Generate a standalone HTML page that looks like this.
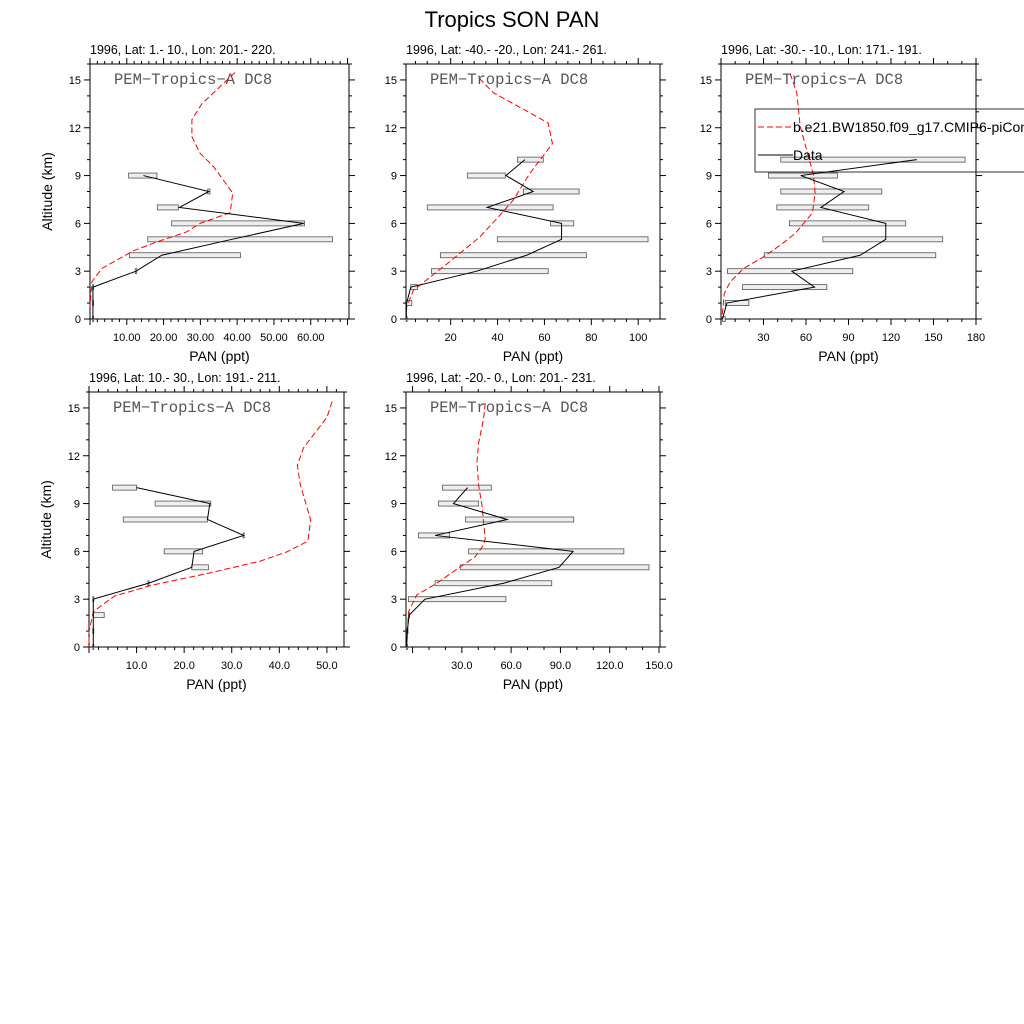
<!DOCTYPE html>
<html><head><meta charset="utf-8"><style>
body{margin:0;background:#fff}
svg{display:block}
text{font-family:"Liberation Sans",sans-serif}
text.camp{font-family:"Liberation Mono",monospace}
</style></head><body>
<svg id="chart" width="1024" height="1024" viewBox="0 0 1024 1024" xmlns="http://www.w3.org/2000/svg">
<rect width="1024" height="1024" fill="#fff"/>
<text x="512" y="27" font-size="22" text-anchor="middle">Tropics SON PAN</text>
</svg>
<script>
// ---- data ----
const altLevels = [0,1,2,3,4,5,6,7,8,9,10];
const p1ModelAlt = [15.47,13.5,12.5,11.45,10.4,9.56,7.9,6.67,6.0,5.47,4.84,4.28,3.17,2.33,0.75];
const p1ModelVal = [39.4,30.4,27.7,27.7,29.9,33.6,38.8,38.1,29.9,26.3,18.2,11.8,3.2,0.5,0];
const p1ObsAlt = [9,8,7,6,5,4,3,2,1,0];
const p1ObsVal = [14.5,32.3,24.3,58.1,38.6,19.5,12.5,0.8,0.8,0.8];
const p1BarMin = [10.5,32,18.3,22.2,15.7,10.7,12.3,0.7,0.7,0.7];
const p1BarMax = [18.2,32.6,24.0,58.3,65.9,40.9,12.7,0.9,0.9,0.9];

const p2ModelAlt = [15.1,14.2,12.3,11.0,9.14,7.46,6.4,5.16,3.69,1.8,0.75,0];
const p2ModelVal = [32.2,38.2,61.6,63.4,53.8,46.7,40.3,32.5,20.4,4.1,1.2,1];
const p2ObsAlt = [10,9,8,7,6,5,4,3,2,1,0];
const p2ObsVal = [51.7,43.6,55.2,35.6,67.3,67.3,52.4,31.1,3,1.2,1];
const p2BarMin = [48.5,27.1,51,10,62.6,39.9,15.6,11.8,3,1.2,1];
const p2BarMax = [59.5,43.3,74.8,63.7,72.5,104.2,77.9,61.6,5.8,3.4,1.2];

const p3ModelAlt = [15.4,14.2,12.1,10.2,9.04,7.9,6.67,5.37,4.63,3.9,3.17,2.33,1.6,0];
const p3ModelVal = [48.8,53.5,55.9,61.7,65.3,66.4,64.6,52.4,41.8,30,15.9,6.5,2.3,0.6];
const p3ObsAlt = [10,9,8,7,6,5,4,3,2,1,0];
const p3ObsVal = [138.2,56.3,86.9,70.5,116.3,116.3,98.2,50,66,4.1,1.1];
const p3BarMin = [42.2,33.5,42.2,39.4,48.3,71.9,30.5,4.6,15.2,3,1.1];
const p3BarMax = [172.3,82.2,113.5,104.3,130.4,156.5,151.6,93,74.7,19.7,3];

const p4ModelAlt = [15.4,14.4,12.5,11.4,10.2,7.96,6.64,5.97,5.39,4.6,3.9,3.2,2.6,2.2,0.96,0];
const p4ModelVal = [51.1,50,45.1,43.8,44.4,46.6,46,41.6,36,24.7,13.5,5.4,2.6,0.9,0,0];
const p4ObsAlt = [10,9,8,7,6,5,4,3,2,1,0];
const p4ObsVal = [10,25.4,24.9,32.5,22.1,21.6,12.5,0.9,0.9,0.9,0.9];
const p4BarMin = [4.95,13.9,7.2,32.4,15.8,21.6,12.4,0.8,0.9,0.8,0.8];
const p4BarMax = [10,25.6,24.9,32.6,23.9,25.1,12.6,1.0,3.2,1.0,1.0];

const p5ModelAlt = [15.3,14.3,12.8,11.6,10.15,8.9,6.8,6.4,5.66,5.03,4.0,3.26,2.2,0];
const p5ModelVal = [44.2,43.2,40.2,39.2,40.2,42.2,44.2,43.2,38.1,29,14.7,2.5,-2.5,-3.6];
const p5ObsAlt = [10,9,8,7,6,5,4,3,2,1,0];
const p5ObsVal = [33.5,24.9,57.5,13.7,97.7,89.2,55.4,7.6,-2.1,-3.2,-3.6];
const p5BarMin = [18.2,15.8,32.2,3.6,34.1,29,13.7,-2.5,-2.5,-3.4,-3.7];
const p5BarMax = [47.9,40.2,98.1,22.5,128.6,143.9,84.7,56.8,-1.8,-3.0,-3.5];

const yTicks = [0,3,6,9,12,15];
const p1XTicks = [10,20,30,40,50,60];
const p1XLabels = ["10.00","20.00","30.00","40.00","50.00","60.00"];
const p2XTicks = [20,40,60,80,100];
const p2XLabels = ["20","40","60","80","100"];
const p3XTicks = [30,60,90,120,150,180];
const p3XLabels = ["30","60","90","120","150","180"];
const p4XTicks = [10,20,30,40,50];
const p4XLabels = ["10.0","20.0","30.0","40.0","50.0"];
const p5XTicks = [30,60,90,120,150];
const p5XLabels = ["30.0","60.0","90.0","120.0","150.0"];

const svg = document.getElementById('chart');
const NS = 'http://www.w3.org/2000/svg';
function mk(tag, attrs, parent){
  const e = document.createElementNS(NS, tag);
  for (const k in attrs) e.setAttribute(k, attrs[k]);
  (parent||svg).appendChild(e);
  return e;
}

function panel(cfg){
  const g = mk('g', {});
  
  
  const L=cfg.L, R=cfg.R, T=cfg.T, B=cfg.B;
  const sx = v => L + (v - cfg.xmin) / (cfg.xmax - cfg.xmin) * (R - L);
  const sy = a => B - a / 16 * (B - T);
  const st = mk('text', {x:L, y:T-10, 'font-size':12.5}, g);
  
  
  st.textContent = cfg.subtitle;
  const fr = mk('rect', {x:L, y:T, width:R-L, height:B-T, fill:'none', stroke:'#000', 'stroke-width':1}, g);
  
  
  for (let a=0;a<=16;a++){
    const y=sy(a); const major = a%3===0;
    const len = major?6:3;
    mk('line',{x1:L,x2:L-len,y1:y,y2:y,stroke:'#000','stroke-width':1},g);
    mk('line',{x1:R,x2:R+len,y1:y,y2:y,stroke:'#000','stroke-width':1},g);
  }
  yTicks.forEach(a=>{
    const t = mk('text',{x:L-9,y:sy(a)+4,'font-size':11,'text-anchor':'end'},g);
    
    
    t.textContent = a;
  });
  const mj = cfg.xTicks[1]-cfg.xTicks[0];
  const mn = mj/cfg.minorDiv;
  for (let v=Math.ceil(cfg.xmin/mn)*mn; v<=cfg.xmax+1e-9; v+=mn){
    const x=sx(v);
    const isMajor = Math.abs(v/mj - Math.round(v/mj))<1e-6;
    const len = isMajor?6:3;
    mk('line',{x1:x,x2:x,y1:B,y2:B+len,stroke:'#000','stroke-width':1},g);
    mk('line',{x1:x,x2:x,y1:T,y2:T-len,stroke:'#000','stroke-width':1},g);
  }
  cfg.xTicks.forEach((v,i)=>{
    const t = mk('text',{x:sx(v),y:B+22,'font-size':11,'text-anchor':'middle'},g);
    
    
    t.textContent = cfg.xLabels[i];
  });
  const xl = mk('text',{x:(L+R)/2,y:B+42,'font-size':14,'text-anchor':'middle'},g);
  
  
  xl.textContent = 'PAN (ppt)';
  if (cfg.ylabel){
    const yl = mk('text',{x:0,y:0,'font-size':14,'text-anchor':'middle',transform:`translate(${L-38},${(T+B)/2}) rotate(-90)`},g);
    
    
    yl.textContent = 'Altitude (km)';
  }
  const cl = mk('text',{x:L+24,y:T+20,'font-size':15.5,fill:'#555','class':'camp'},g);
  
  
  cl.textContent = 'PEM\u2212Tropics\u2212A DC8';
  cfg.obsAlt.forEach((a,i)=>{
    const x1=sx(cfg.barMin[i]), x2=sx(cfg.barMax[i]);
    const r = mk('rect',{x:Math.min(x1,x2),y:sy(a)-2.5,width:Math.max(Math.abs(x2-x1),1),height:5,fill:'#eee',stroke:'#555','stroke-width':0.8},g);
    
    
  });
  const mp = mk('polyline',{points:cfg.modelAlt.map((a,i)=>sx(cfg.modelVal[i])+','+sy(a)).join(' '),fill:'none',stroke:'#f00','stroke-width':1,'stroke-dasharray':'6,3'},g);
  
  
  const op = mk('polyline',{points:cfg.obsAlt.map((a,i)=>sx(cfg.obsVal[i])+','+sy(a)).join(' '),fill:'none',stroke:'#000','stroke-width':1},g);
  
  
}

panel({name:'panel-1',subtitle:'1996, Lat: 1.- 10., Lon: 201.- 220.',L:90,R:349,T:64,B:319,xmin:0,xmax:70.4,xTicks:p1XTicks,xLabels:p1XLabels,minorDiv:5,ylabel:true,
  modelAlt:p1ModelAlt,modelVal:p1ModelVal,obsAlt:p1ObsAlt,obsVal:p1ObsVal,barMin:p1BarMin,barMax:p1BarMax});
panel({name:'panel-2',subtitle:'1996, Lat: -40.- -20., Lon: 241.- 261.',L:406,R:660,T:64,B:319,xmin:0.94,xmax:109.3,xTicks:p2XTicks,xLabels:p2XLabels,minorDiv:4,ylabel:false,
  modelAlt:p2ModelAlt,modelVal:p2ModelVal,obsAlt:p2ObsAlt,obsVal:p2ObsVal,barMin:p2BarMin,barMax:p2BarMax});
panel({name:'panel-3',subtitle:'1996, Lat: -30.- -10., Lon: 171.- 191.',L:721,R:976,T:64,B:319,xmin:0,xmax:180,xTicks:p3XTicks,xLabels:p3XLabels,minorDiv:3,ylabel:false,
  modelAlt:p3ModelAlt,modelVal:p3ModelVal,obsAlt:p3ObsAlt,obsVal:p3ObsVal,barMin:p3BarMin,barMax:p3BarMax});
panel({name:'panel-4',subtitle:'1996, Lat: 10.- 30., Lon: 191.- 211.',L:89,R:344,T:392,B:647,xmin:0,xmax:53.6,xTicks:p4XTicks,xLabels:p4XLabels,minorDiv:5,ylabel:true,
  modelAlt:p4ModelAlt,modelVal:p4ModelVal,obsAlt:p4ObsAlt,obsVal:p4ObsVal,barMin:p4BarMin,barMax:p4BarMax});
panel({name:'panel-5',subtitle:'1996, Lat: -20.- 0., Lon: 201.- 231.',L:406,R:660,T:392,B:647,xmin:-4,xmax:150.6,xTicks:p5XTicks,xLabels:p5XLabels,minorDiv:3,ylabel:false,
  modelAlt:p5ModelAlt,modelVal:p5ModelVal,obsAlt:p5ObsAlt,obsVal:p5ObsVal,barMin:p5BarMin,barMax:p5BarMax});

const lg = mk('g',{});


mk('rect',{x:755,y:109,width:290,height:63,fill:'none',stroke:'#000','stroke-width':0.8},lg);
mk('line',{x1:758,x2:793,y1:127,y2:127,stroke:'#f00','stroke-width':1,'stroke-dasharray':'6,3'},lg);
const le1 = mk('text',{x:793,y:132,'font-size':14},lg);


le1.textContent='b.e21.BW1850.f09_g17.CMIP6-piControl';
mk('line',{x1:758,x2:793,y1:155,y2:155,stroke:'#000','stroke-width':1},lg);
const le2 = mk('text',{x:793,y:160,'font-size':14},lg);


le2.textContent='Data';
</script>
</body></html>
